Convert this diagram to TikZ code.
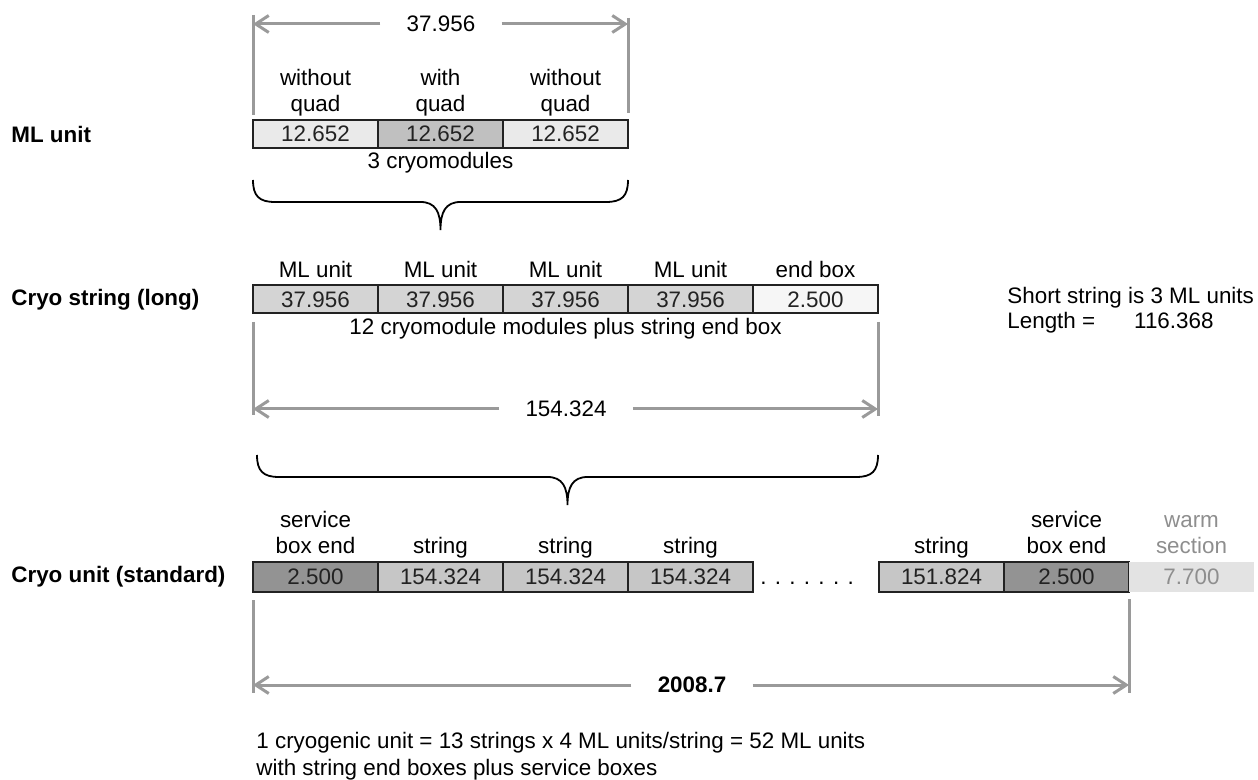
\documentclass[tikz,border=0pt]{standalone}
\usepackage{fontspec}
\setmainfont{Liberation Sans}
\usepackage{xcolor}
\usepackage{tikz}
\usetikzlibrary{positioning, arrows.meta}

\definecolor{dimgray}{HTML}{9A9A9A}
\definecolor{boxline}{HTML}{222222}
\definecolor{lightcell}{HTML}{EAEAEA}
\definecolor{quadcell}{HTML}{C0C0C0}
\definecolor{mlcell}{HTML}{D4D4D4}
\definecolor{endcell}{HTML}{F6F6F6}
\definecolor{stringcell}{HTML}{C6C6C6}
\definecolor{servicecell}{HTML}{939393}
\definecolor{warmcell}{HTML}{E3E3E3}
\definecolor{warmtext}{HTML}{8E8E8E}

\tikzset{
  cell/.style={draw=boxline, line width=1pt, rectangle, minimum width=62.5pt, minimum height=14pt, inner sep=0pt, outer sep=0pt, text=boxline},
  celllabel/.style={inner sep=0pt, align=center, execute at end node=\strut},
  rowname/.style={anchor=west, inner sep=0pt, font=\fontsize{11.2}{13}\selectfont\bfseries},
  extline/.style={draw=dimgray, line width=1.5pt},
  dimarrow/.style={draw=dimgray, line width=1.5pt, -{Straight Barb[length=6.5pt, width=8.5pt]}},
  dimtext/.style={inner xsep=13pt},
  bracestroke/.style={draw=black, line width=0.9pt}
}

% curly brace over a span: left x, right x, top y (picture units)
\newcommand{\spanbrace}[3]{%
  \draw[bracestroke] (#1,#3) .. controls (#1,{#3+16}) and ({#1+6},{#3+22}) .. ({#1+22},{#3+22})
    -- ({(#1+#2)/2-20},{#3+22}) .. controls ({(#1+#2)/2-5},{#3+22}) and ({(#1+#2)/2},{#3+32}) .. ({(#1+#2)/2},{#3+50})
    .. controls ({(#1+#2)/2},{#3+32}) and ({(#1+#2)/2+5},{#3+22}) .. ({(#1+#2)/2+20},{#3+22})
    -- ({#2-22},{#3+22}) .. controls ({#2-6},{#3+22}) and (#2,{#3+16}) .. (#2,#3);
}

\begin{document}
\begin{tikzpicture}[x=0.5pt, y=-0.5pt, font=\fontsize{11.2}{13}\selectfont]
  \useasboundingbox (0,0) rectangle (1258,780);

  % row names
  \node[rowname] (nameml) at (11,134) {ML unit};
  \node[rowname] (namestring) at (11,299.5) {Cryo string (long)};
  \node[rowname] (nameunit) at (11,577) {Cryo unit (standard)};

  % ML unit
  \node[cell, fill=lightcell] (cm1) at (315.5,134) {12.652};
  \node[cell, fill=quadcell] (cm2) at (440.5,134) {12.652};
  \node[cell, fill=lightcell] (cm3) at (565.5,134) {12.652};
  \node[celllabel, above=0pt of cm1] {without\\quad};
  \node[celllabel, above=0pt of cm2] {with\\quad};
  \node[celllabel, above=0pt of cm3] {without\\quad};
  \node[celllabel, below=1pt of cm2, execute at begin node=\strut] (cmnote) {3 cryomodules};

  \draw[extline] (253,15) -- (253,115);
  \draw[extline] (628,18) -- (628,113);
  \coordinate (mlL) at (253,24);
  \coordinate (mlR) at (628,24);
  \node[dimtext] (mllen) at (441,24) {37.956};
  \draw[dimarrow] (mllen.west) -- (mlL);
  \draw[dimarrow] (mllen.east) -- (mlR);

  \spanbrace{253}{628}{180}

  % cryo string
  \node[cell, fill=mlcell] (ml1) at (315.5,299.5) {37.956};
  \node[cell, fill=mlcell] (ml2) at (440.5,299.5) {37.956};
  \node[cell, fill=mlcell] (ml3) at (565.5,299.5) {37.956};
  \node[cell, fill=mlcell] (ml4) at (690.5,299.5) {37.956};
  \node[cell, fill=endcell] (eb) at (815.5,299.5) {2.500};
  \node[celllabel, above=0pt of ml1] {ML unit};
  \node[celllabel, above=0pt of ml2] {ML unit};
  \node[celllabel, above=0pt of ml3] {ML unit};
  \node[celllabel, above=0pt of ml4] {ML unit};
  \node[celllabel, above=0pt of eb] {end box};
  \node[celllabel, below=1pt of ml3, execute at begin node=\strut] (stringnote) {12 cryomodule modules plus string end box};

  \node[anchor=west, align=left, inner sep=0pt, font=\fontsize{11.2}{12.5}\selectfont] (shortnote) at (1007,310.5) {Short string is 3 ML units\\Length =\hspace{19.5pt}116.368};

  \draw[extline] (253,322) -- (253,415);
  \draw[extline] (878,322) -- (878,416);
  \coordinate (strL) at (253,409);
  \coordinate (strR) at (878,409);
  \node[dimtext] (strlen) at (566,409) {154.324};
  \draw[dimarrow] (strlen.west) -- (strL);
  \draw[dimarrow] (strlen.east) -- (strR);

  \spanbrace{257}{878}{455}

  % cryo unit
  \node[cell, minimum height=15pt, fill=servicecell] (sb1) at (315.5,577) {2.500};
  \node[cell, minimum height=15pt, fill=stringcell] (st1) at (440.5,577) {154.324};
  \node[cell, minimum height=15pt, fill=stringcell] (st2) at (565.5,577) {154.324};
  \node[cell, minimum height=15pt, fill=stringcell] (st3) at (690.5,577) {154.324};
  \node[anchor=base west, inner sep=0pt] (dots) at ([xshift=3.5pt]st3.base east) {. . . . . . .};
  \node[cell, minimum height=15pt, fill=stringcell] (st13) at (941.5,577) {151.824};
  \node[cell, minimum height=15pt, fill=servicecell] (sb2) at (1066.5,577) {2.500};
  \node[cell, minimum height=15pt, fill=warmcell, draw=none, text=warmtext] (warm) at (1191.5,577) {7.700};
  \node[celllabel, above=0pt of sb1] {service\\box end};
  \node[celllabel, above=0pt of st1] {string};
  \node[celllabel, above=0pt of st2] {string};
  \node[celllabel, above=0pt of st3] {string};
  \node[celllabel, above=0pt of st13] {string};
  \node[celllabel, above=0pt of sb2] {service\\box end};
  \node[celllabel, above=0pt of warm, text=warmtext] {warm\\section};

  \draw[extline] (253,600) -- (253,693);
  \draw[extline] (1129,599) -- (1129,693);
  \coordinate (unitL) at (253,685);
  \coordinate (unitR) at (1129,685);
  \node[dimtext, font=\fontsize{11.2}{13}\selectfont\bfseries] (unitlen) at (692,685) {2008.7};
  \draw[dimarrow] (unitlen.west) -- (unitL);
  \draw[dimarrow] (unitlen.east) -- (unitR);

  \node[anchor=west, align=left, inner sep=0pt, font=\fontsize{11.2}{13.5}\selectfont] (unitnote) at (256,756.5) {1 cryogenic unit = 13 strings x 4 ML units/string = 52 ML units\\with string end boxes plus service boxes};
\end{tikzpicture}
\end{document}
